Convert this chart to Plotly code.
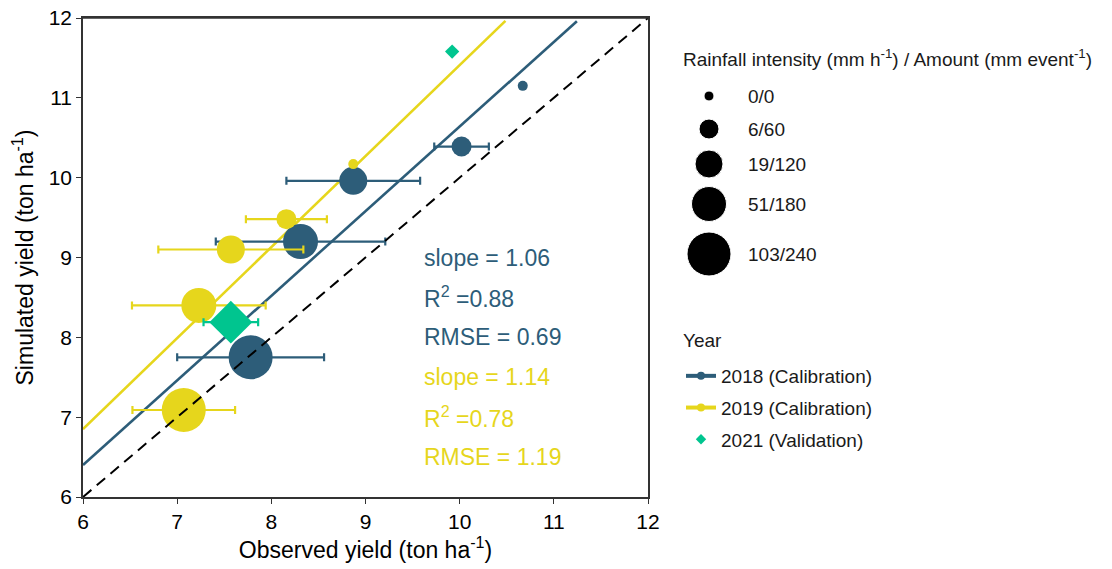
import plotly.graph_objects as go

# ---------------- data ----------------
rain_levels = ["0/0", "6/60", "19/120", "51/180", "103/240"]

obs_2018 = [10.67, 10.02, 8.87, 8.31, 7.78]
sim_2018 = [11.15, 10.39, 9.96, 9.20, 7.75]
err_2018 = [None, 0.29, 0.71, 0.90, 0.78]
rain_2018 = ["0/0", "6/60", "19/120", "51/180", "103/240"]

obs_2019 = [8.87, 8.16, 7.57, 7.23, 7.07]
sim_2019 = [10.17, 9.48, 9.10, 8.40, 7.09]
err_2019 = [None, 0.43, 0.77, 0.71, 0.545]
rain_2019 = ["0/0", "6/60", "19/120", "51/180", "103/240"]

obs_2021 = [9.92, 7.57]
sim_2021 = [11.58, 8.19]
err_2021 = [None, 0.29]
rain_2021 = ["0/0", "103/240"]

fit_slope = {"2018": 1.06, "2019": 1.14}
fit_intercept = {"2018": 0.04, "2019": 0.01}
fit_x_range = {"2018": [6, 11.245], "2019": [6, 10.486]}
stats_2018 = ["slope = 1.06", "R<sup>2</sup> =0.88", "RMSE = 0.69"]
stats_2019 = ["slope = 1.14", "R<sup>2</sup> =0.78", "RMSE = 1.19"]
one_to_one = [6, 12]

year_labels = ["2018 (Calibration)", "2019 (Calibration)", "2021 (Validation)"]
axis_ticks = [6, 7, 8, 9, 10, 11, 12]

# ---------------- styles ----------------
FONT = "Liberation Sans, Arial, sans-serif"
C18 = "#2D5D79"
C19 = "#E6D61C"
C21 = "#00C58F"
circle_px = dict(zip(rain_levels, [10, 20, 28, 35, 44]))
diamond_px = {"0/0": 11, "103/240": 33}

fig = go.Figure()

# regression lines
for yr, col in (("2019", C19), ("2018", C18)):
    xs = fit_x_range[yr]
    ys = [fit_slope[yr] * x + fit_intercept[yr] for x in xs]
    fig.add_trace(go.Scatter(x=xs, y=ys, mode="lines", line=dict(color=col, width=2.6),
                             showlegend=False, hoverinfo="skip"))

def pts(obs, sim, err, rain, col, symbol, sizes):
    return go.Scatter(
        x=obs, y=sim, mode="markers",
        marker=dict(color=col, symbol=symbol, size=[sizes[r] for r in rain],
                    opacity=1, line=dict(width=0)),
        error_x=dict(type="data", array=err, symmetric=True, color=col, thickness=2.2, width=4),
        showlegend=False)

fig.add_trace(pts(obs_2018, sim_2018, err_2018, rain_2018, C18, "circle", circle_px))
fig.add_trace(pts(obs_2019, sim_2019, err_2019, rain_2019, C19, "circle", circle_px))
fig.add_trace(pts(obs_2021, sim_2021, err_2021, rain_2021, C21, "diamond", diamond_px))

# 1:1 line on top
fig.add_trace(go.Scatter(x=one_to_one, y=one_to_one, mode="lines",
                         line=dict(color="black", width=2, dash="11px,7px"),
                         showlegend=False, hoverinfo="skip"))

# Year legend entries
fig.add_trace(go.Scatter(x=[None], y=[None], mode="lines+markers", name=year_labels[0],
                         legendgroup="a",
                         line=dict(color=C18, width=4), marker=dict(color=C18, size=8)))
fig.add_trace(go.Scatter(x=[None], y=[None], mode="lines+markers", name=year_labels[1],
                         legendgroup="b",
                         line=dict(color=C19, width=4), marker=dict(color=C19, size=8)))
fig.add_trace(go.Scatter(x=[None], y=[None], mode="markers", name=year_labels[2],
                         legendgroup="c",
                         marker=dict(color=C21, size=8, symbol="diamond")))

# size legend (drawn in a hidden helper axis, 1 unit = 1 px below plot top)
key_y = [78, 111, 146, 186, 236]
fig.add_trace(go.Scatter(x=[28] * len(rain_levels), y=key_y, mode="markers",
                         marker=dict(color="black", opacity=1,
                                     size=[circle_px[r] for r in rain_levels]),
                         xaxis="x2", yaxis="y2", showlegend=False, hoverinfo="skip"))

annotations = []
for i, lab in enumerate(rain_levels):
    annotations.append(dict(x=65, y=key_y[i], xref="x2", yref="y2", text=lab, showarrow=False,
                            xanchor="left", yanchor="middle",
                            font=dict(family=FONT, size=19, color="#1a1a1a")))
annotations.append(dict(x=0, y=40, xref="x2", yref="y2",
                        text="Rainfall intensity (mm h<sup>-1</sup>) / Amount (mm event<sup>-1</sup>)",
                        showarrow=False, xanchor="left", yanchor="middle",
                        font=dict(family=FONT, size=19, color="#1a1a1a")))
annotations.append(dict(x=0, y=322, xref="x2", yref="y2", text="Year",
                        showarrow=False, xanchor="left", yanchor="middle",
                        font=dict(family=FONT, size=19, color="#1a1a1a")))

stat_y = [9.0, 8.5, 8.0, 7.5, 7.0, 6.5]
for i, t in enumerate(stats_2018 + stats_2019):
    annotations.append(dict(x=9.6, y=stat_y[i], xref="x", yref="y", text=t, showarrow=False,
                            xanchor="left", yanchor="middle",
                            font=dict(family=FONT, size=23, color=C18 if i < 3 else C19)))

axis_common = dict(range=[6, 12], tickvals=axis_ticks, showline=True, mirror=True,
                   linecolor="#333333", linewidth=1.5, ticks="outside", ticklen=5,
                   tickwidth=1.3, tickcolor="#333333", showgrid=False, zeroline=False,
                   automargin=False, ticklabeloverflow="allow",
                   tickfont=dict(family=FONT, size=21, color="black"))

# page body has an 8px default margin, so the figure is drawn 8px in from the corner
OFF = 8
W, H = 1112 - OFF, 569 - OFF
L, T = 83 - OFF, 18 - OFF
PW, PH = 565, 479
R = 2
B = H - T - PH
pw = W - L - R

fig.update_layout(
    width=W, height=H,
    margin=dict(l=L, r=R, t=T, b=B, autoexpand=False),
    paper_bgcolor="white", plot_bgcolor="white",
    font=dict(family=FONT, color="black"),
    xaxis=dict(domain=[0, PW / pw],
               title=dict(text="Observed yield (ton ha<sup>-1</sup>)", font=dict(family=FONT, size=23),
                          standoff=10),
               **axis_common),
    yaxis=dict(title=dict(text="Simulated yield (ton ha<sup>-1</sup>)", font=dict(family=FONT, size=23),
                          standoff=10),
               **axis_common),
    xaxis2=dict(domain=[(681 - 83) / pw, 1], range=[0, pw - (681 - 83)], visible=False,
                fixedrange=True, automargin=False),
    yaxis2=dict(domain=[0, 1], range=[PH, 0], visible=False, fixedrange=True,
                anchor="x2", automargin=False),
    legend=dict(x=(681 - 83) / pw, y=(PH - (357 - 18)) / PH, xanchor="left", yanchor="top",
                font=dict(family=FONT, size=19, color="#1a1a1a"), bgcolor="rgba(0,0,0,0)",
                itemsizing="trace", tracegroupgap=4, traceorder="grouped"),
    annotations=annotations,
    shapes=[dict(type="line", xref="x domain", yref="y domain", x0=0, x1=1, y0=1, y1=1,
                 line=dict(color="#333333", width=1.6), layer="above")],
)

fig.write_html("out.html")
